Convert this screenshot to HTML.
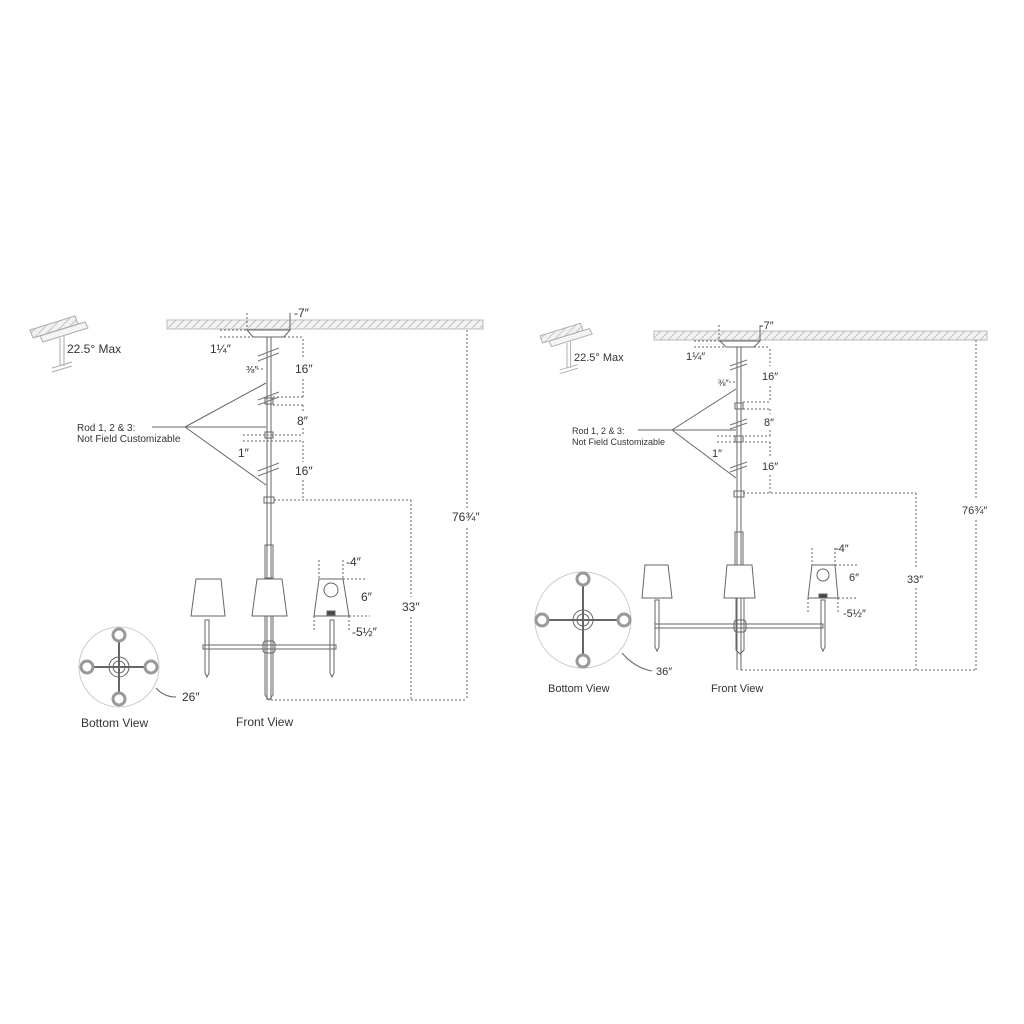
<!DOCTYPE html>
<html><head><meta charset="utf-8"><style>
html,body{margin:0;padding:0;background:#fff;}
svg{display:block;}
text{font-family:"Liberation Sans",sans-serif;fill:#333;}
</style></head><body>
<svg width="1024" height="1024" viewBox="0 0 1024 1024" xmlns="http://www.w3.org/2000/svg">
<defs>
<pattern id="hatch" width="8" height="8" patternUnits="userSpaceOnUse">
<rect width="8" height="8" fill="#f2f2f2"/>
<path d="M0 8 L8 0" stroke="#c8c8c8" stroke-width="1.2"/>
</pattern>
</defs>
<g stroke="#666" fill="none" stroke-width="1">
<!-- ============ LEFT ============ -->
<rect x="167" y="320" width="316" height="9" fill="url(#hatch)" stroke="#bbb"/>
<!-- tilt icon -->
<g transform="translate(30,318)" stroke="#aaa">
<path d="M0 12 L45 -2 L48 6 L3 20 Z" fill="url(#hatch)"/>
<path d="M10 18 L55 4 L58 10 L13 24 Z" fill="#f4f4f4"/>
<line x1="30" y1="20" x2="30" y2="48"/><line x1="34" y1="18" x2="34" y2="48"/>
<line x1="22" y1="50" x2="42" y2="44"/><line x1="22" y1="54" x2="42" y2="48"/>
</g>
<!-- canopy -->
<path d="M247 330 L290 330 L284 337 L253 337 Z" fill="#fff"/>
<line x1="247" y1="313" x2="247" y2="330" stroke-dasharray="2 2"/>
<line x1="290" y1="313" x2="290" y2="330"/>
<line x1="220" y1="330" x2="247" y2="330" stroke-dasharray="2 2"/>
<line x1="220" y1="337" x2="303" y2="337" stroke-dasharray="2 2"/>
<!-- rod -->
<line x1="267" y1="337" x2="267" y2="700"/><line x1="271" y1="337" x2="271" y2="700"/>
<path d="M258 356 L279 348 M258 361 L279 353 M258 400 L279 392 M258 405 L279 397 M258 471 L279 463 M258 476 L279 468" stroke="#777"/>
<rect x="265" y="398" width="8" height="6"/><rect x="265" y="432" width="8" height="6"/>
<rect x="264" y="497" width="10" height="6"/>
<rect x="265" y="545" width="8" height="33"/>
<!-- dims on right -->
<line x1="303" y1="339" x2="303" y2="359" stroke-dasharray="2 2"/>
<line x1="303" y1="379" x2="303" y2="397" stroke-dasharray="2 2"/>
<line x1="273" y1="397" x2="303" y2="397" stroke-dasharray="2 2"/>
<line x1="273" y1="405" x2="303" y2="405" stroke-dasharray="2 2"/>
<line x1="303" y1="405" x2="303" y2="412" stroke-dasharray="2 2"/>
<line x1="303" y1="428" x2="303" y2="435" stroke-dasharray="2 2"/>
<line x1="243" y1="435" x2="303" y2="435" stroke-dasharray="2 2"/>
<line x1="243" y1="441" x2="303" y2="441" stroke-dasharray="2 2"/>
<line x1="303" y1="441" x2="303" y2="462" stroke-dasharray="2 2"/>
<line x1="303" y1="480" x2="303" y2="500" stroke-dasharray="2 2"/>
<line x1="274" y1="500" x2="411" y2="500" stroke-dasharray="2 2"/>
<line x1="411" y1="500" x2="411" y2="597" stroke-dasharray="2 2"/>
<line x1="411" y1="617" x2="411" y2="700" stroke-dasharray="2 2"/>
<line x1="271" y1="700" x2="467" y2="700" stroke-dasharray="2 2"/>
<line x1="467" y1="330" x2="467" y2="508" stroke-dasharray="2 2"/>
<line x1="467" y1="528" x2="467" y2="700" stroke-dasharray="2 2"/>
<line x1="257" y1="369" x2="265" y2="369" stroke-dasharray="2 2"/>
<!-- rod leader -->
<line x1="185" y1="427" x2="266" y2="383"/><line x1="185" y1="427" x2="266" y2="427"/><line x1="185" y1="427" x2="266" y2="485"/>
<line x1="152" y1="427" x2="185" y2="427"/>
<!-- shades -->
<path d="M196 579 L221 579 L225 616 L191 616 Z" fill="#fff"/>
<path d="M257 579 L282 579 L287 616 L252 616 Z" fill="#fff"/>
<path d="M319 579 L343 579 L349 616 L314 616 Z" fill="#fff"/>
<circle cx="331" cy="590" r="7"/><rect x="327" y="611" width="8" height="4" fill="#444"/>
<!-- candles -->
<path d="M205 620 L209 620 L209 673 L207 677 L205 673 Z"/>
<path d="M330 620 L334 620 L334 673 L332 677 L330 673 Z"/>
<path d="M265 616 L273 616 L273 695 L269 700 L265 695 Z"/>
<rect x="203" y="645" width="133" height="4"/>
<rect x="263" y="641" width="12" height="12" rx="3"/>
<!-- lamp dims -->
<line x1="319" y1="560" x2="319" y2="580" stroke-dasharray="2 2"/>
<line x1="343" y1="560" x2="343" y2="580" stroke-dasharray="2 2"/>
<line x1="314" y1="616" x2="314" y2="632" stroke-dasharray="2 2"/>
<line x1="349" y1="616" x2="349" y2="632" stroke-dasharray="2 2"/>
<line x1="343" y1="579" x2="366" y2="579" stroke-dasharray="2 2"/>
<line x1="349" y1="616" x2="370" y2="616" stroke-dasharray="2 2"/>
<!-- bottom view -->
<circle cx="119" cy="667" r="40" stroke="#ccc"/>
<line x1="87" y1="667" x2="151" y2="667" stroke-width="2"/><line x1="119" y1="635" x2="119" y2="699" stroke-width="2"/>
<circle cx="119" cy="667" r="10"/><circle cx="119" cy="667" r="6"/>
<g fill="#fff" stroke="#999" stroke-width="3"><circle cx="87" cy="667" r="6"/><circle cx="151" cy="667" r="6"/><circle cx="119" cy="635" r="6"/><circle cx="119" cy="699" r="6"/></g>
<path d="M156 688 Q164 697 176 697"/>
<!-- ============ RIGHT ============ -->
<rect x="654" y="331" width="333" height="9" fill="url(#hatch)" stroke="#bbb"/>
<g transform="translate(540,325) scale(0.9)" stroke="#aaa">
<path d="M0 12 L45 -2 L48 6 L3 20 Z" fill="url(#hatch)"/>
<path d="M10 18 L55 4 L58 10 L13 24 Z" fill="#f4f4f4"/>
<line x1="30" y1="20" x2="30" y2="48"/><line x1="34" y1="18" x2="34" y2="48"/>
<line x1="22" y1="50" x2="42" y2="44"/><line x1="22" y1="54" x2="42" y2="48"/>
</g>
<path d="M720 341 L760 341 L754 347 L726 347 Z" fill="#fff"/>
<line x1="719" y1="325" x2="719" y2="341" stroke-dasharray="2 2"/>
<line x1="760" y1="325" x2="760" y2="341"/>
<line x1="694" y1="341" x2="720" y2="341" stroke-dasharray="2 2"/>
<line x1="694" y1="347" x2="770" y2="347" stroke-dasharray="2 2"/>
<line x1="737" y1="347" x2="737" y2="670"/><line x1="741" y1="347" x2="741" y2="670"/>
<path d="M730 366 L747 360 M730 370 L747 364 M730 425 L747 419 M730 429 L747 423 M730 468 L747 462 M730 472 L747 466" stroke="#777"/>
<rect x="735" y="403" width="8" height="6"/><rect x="735" y="436" width="8" height="6"/>
<rect x="734" y="491" width="10" height="6"/><rect x="735" y="532" width="8" height="33"/>
<line x1="770" y1="349" x2="770" y2="366" stroke-dasharray="2 2"/>
<line x1="770" y1="386" x2="770" y2="402" stroke-dasharray="2 2"/>
<line x1="743" y1="402" x2="770" y2="402" stroke-dasharray="2 2"/>
<line x1="743" y1="409" x2="770" y2="409" stroke-dasharray="2 2"/>
<line x1="770" y1="409" x2="770" y2="414" stroke-dasharray="2 2"/>
<line x1="770" y1="430" x2="770" y2="436" stroke-dasharray="2 2"/>
<line x1="717" y1="436" x2="770" y2="436" stroke-dasharray="2 2"/>
<line x1="717" y1="442" x2="770" y2="442" stroke-dasharray="2 2"/>
<line x1="770" y1="442" x2="770" y2="457" stroke-dasharray="2 2"/>
<line x1="770" y1="475" x2="770" y2="493" stroke-dasharray="2 2"/>
<line x1="743" y1="493" x2="916" y2="493" stroke-dasharray="2 2"/>
<line x1="916" y1="493" x2="916" y2="568" stroke-dasharray="2 2"/>
<line x1="916" y1="588" x2="916" y2="670" stroke-dasharray="2 2"/>
<line x1="741" y1="670" x2="976" y2="670" stroke-dasharray="2 2"/>
<line x1="976" y1="340" x2="976" y2="500" stroke-dasharray="2 2"/>
<line x1="976" y1="520" x2="976" y2="670" stroke-dasharray="2 2"/>
<line x1="729" y1="382" x2="736" y2="382" stroke-dasharray="2 2"/>
<line x1="672" y1="430" x2="736" y2="389"/><line x1="672" y1="430" x2="736" y2="430"/><line x1="672" y1="430" x2="736" y2="478"/>
<line x1="638" y1="430" x2="672" y2="430"/>
<path d="M645 565 L668 565 L672 598 L642 598 Z" fill="#fff"/>
<path d="M727 565 L752 565 L755 598 L724 598 Z" fill="#fff"/>
<path d="M812 565 L835 565 L838 598 L808 598 Z" fill="#fff"/>
<circle cx="823" cy="575" r="6"/><rect x="819" y="594" width="8" height="4" fill="#444"/>
<path d="M655 600 L659 600 L659 647 L657 651 L655 647 Z"/>
<path d="M821 600 L825 600 L825 647 L823 651 L821 647 Z"/>
<path d="M736 598 L744 598 L744 650 L740 654 L736 650 Z"/>
<rect x="655" y="624" width="168" height="4"/>
<rect x="734" y="620" width="12" height="12" rx="3"/>
<line x1="812" y1="548" x2="812" y2="565" stroke-dasharray="2 2"/>
<line x1="835" y1="548" x2="835" y2="565" stroke-dasharray="2 2"/>
<line x1="808" y1="598" x2="808" y2="612" stroke-dasharray="2 2"/>
<line x1="838" y1="598" x2="838" y2="612" stroke-dasharray="2 2"/>
<line x1="835" y1="565" x2="858" y2="565" stroke-dasharray="2 2"/>
<line x1="838" y1="598" x2="858" y2="598" stroke-dasharray="2 2"/>
<circle cx="583" cy="620" r="48" stroke="#ccc"/>
<line x1="542" y1="620" x2="624" y2="620" stroke-width="2"/><line x1="583" y1="579" x2="583" y2="661" stroke-width="2"/>
<circle cx="583" cy="620" r="10"/><circle cx="583" cy="620" r="6"/>
<g fill="#fff" stroke="#999" stroke-width="3"><circle cx="542" cy="620" r="6"/><circle cx="624" cy="620" r="6"/><circle cx="583" cy="579" r="6"/><circle cx="583" cy="661" r="6"/></g>
<path d="M622 653 Q635 668 652 671"/>
</g>
<!-- TEXT LEFT -->
<g font-size="12">
<text x="67" y="353" font-size="12">22.5° Max</text>
<text x="294" y="317">-7″</text>
<text x="210" y="353">1¼″</text>
<text x="246" y="373" font-size="10">⅜″</text>
<text x="295" y="373">16″</text>
<text x="297" y="425">8″</text>
<text x="238" y="457">1″</text>
<text x="295" y="475">16″</text>
<text x="402" y="611">33″</text>
<text x="452" y="521">76¾″</text>
<text x="346" y="566">-4″</text>
<text x="361" y="601">6″</text>
<text x="352" y="636">-5½″</text>
<text x="182" y="701">26″</text>
<text x="81" y="727">Bottom View</text>
<text x="236" y="726">Front View</text>
<text x="77" y="431" font-size="10" fill="#555">Rod 1, 2 &amp; 3:</text>
<text x="77" y="442" font-size="10" fill="#555">Not Field Customizable</text>
<!-- TEXT RIGHT -->
<text x="574" y="361" font-size="11">22.5° Max</text>
<text x="760" y="329" font-size="11">-7″</text>
<text x="686" y="360" font-size="11">1¼″</text>
<text x="718" y="386" font-size="9">⅜″</text>
<text x="762" y="380" font-size="11">16″</text>
<text x="764" y="426" font-size="11">8″</text>
<text x="712" y="457" font-size="11">1″</text>
<text x="762" y="470" font-size="11">16″</text>
<text x="907" y="583" font-size="11">33″</text>
<text x="962" y="514" font-size="11">76¾″</text>
<text x="835" y="552" font-size="11">-4″</text>
<text x="849" y="581" font-size="11">6″</text>
<text x="843" y="617" font-size="11">-5½″</text>
<text x="656" y="675" font-size="11">36″</text>
<text x="548" y="692" font-size="11">Bottom View</text>
<text x="711" y="692" font-size="11">Front View</text>
<text x="572" y="434" font-size="9" fill="#555">Rod 1, 2 &amp; 3:</text>
<text x="572" y="445" font-size="9" fill="#555">Not Field Customizable</text>
</g>
</svg>
</body></html>
